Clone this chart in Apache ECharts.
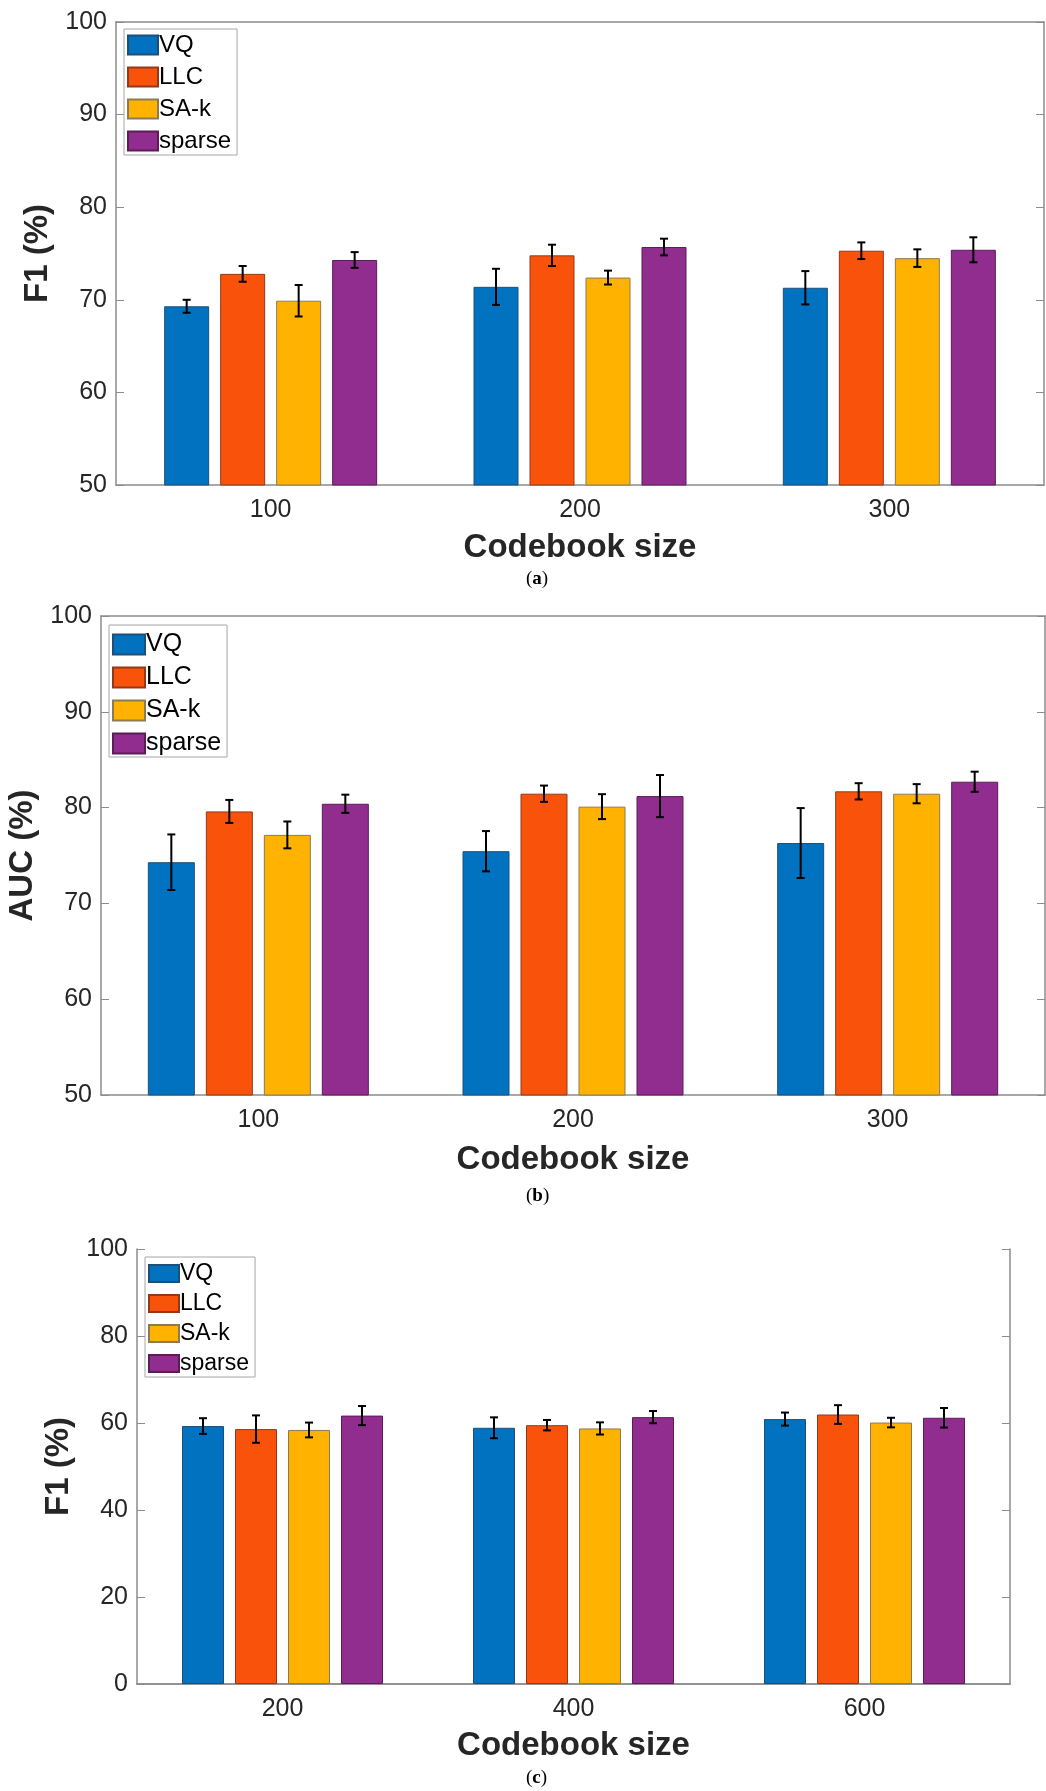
<!DOCTYPE html>
<html>
<head>
<meta charset="utf-8">
<script src="https://cdn.jsdelivr.net/npm/echarts@6/dist/echarts.min.js"></script>
<style>
  html, body { margin: 0; padding: 0; background: #fff; }
  #chart { width: 1046px; height: 1791px; }
</style>
</head>
<body>
<div id="chart"></div>
<script>
// data
var methods = ['VQ', 'LLC', 'SA-k', 'sparse'];
var sizesAB = ['100', '200', '300'];
var sizesC = ['200', '400', '600'];

// (a) F1, rows = methods, cols = codebook size
var f1aMean = [
    [69.3, 71.4, 71.3],
    [72.8, 74.8, 75.3],
    [69.9, 72.4, 74.5],
    [74.3, 75.7, 75.4]
];
var f1aErr = [
    [0.7, 1.95, 1.8],
    [0.85, 1.15, 0.9],
    [1.7, 0.75, 0.95],
    [0.85, 0.9, 1.35]
];
// (b) AUC
var aucMean = [
    [74.3, 75.45, 76.3],
    [79.6, 81.45, 81.7],
    [77.15, 80.1, 81.45],
    [80.4, 81.2, 82.7]
];
var aucErr = [
    [2.9, 2.1, 3.65],
    [1.2, 0.85, 0.85],
    [1.4, 1.3, 1.0],
    [0.95, 2.2, 1.05]
];
// (c) F1
var f1cMean = [
    [59.3, 58.9, 60.9],
    [58.6, 59.5, 61.95],
    [58.4, 58.75, 60.1],
    [61.7, 61.35, 61.2]
];
var f1cErr = [
    [1.8, 2.4, 1.5],
    [3.15, 1.2, 2.15],
    [1.7, 1.4, 1.1],
    [2.2, 1.4, 2.25]
];

var colors = ['#0072BF', '#F9530B', '#FFB200', '#912D8E'];
var edges = ['#1f4f78', '#8f3a18', '#8c7a55', '#5a1d58'];
var axisGray = '#8c8c8c';
var txt = '#262626';
var sans = 'Liberation Sans, Arial, sans-serif';

// panel layouts (px)
var panels = [
    { grid: { left: 116, right: 2, top: 22, height: 463 }, cats: sizesAB, mean: f1aMean, err: f1aErr,
      min: 50, max: 100, interval: 10, yName: 'F1 (%)', yGap: 56, xGap: 46, barW: 45, gap: 11,
      legend: { left: 124, top: 29, itemWidth: 30, itemHeight: 19, itemGap: 8, fontSize: 24, padding: [4, 6, 2, 3] } },
    { grid: { left: 101, right: 1, top: 616, height: 479 }, cats: sizesAB, mean: aucMean, err: aucErr,
      min: 50, max: 100, interval: 10, yName: 'AUC (%)', yGap: 52, xGap: 48, barW: 47, gap: 11,
      legend: { left: 109, top: 625, itemWidth: 32, itemHeight: 20, itemGap: 8, fontSize: 25, padding: [7, 6, 1, 3] } },
    { grid: { left: 137, right: 36, top: 1249, height: 435 }, cats: sizesC, mean: f1cMean, err: f1cErr,
      min: 0, max: 100, interval: 20, yName: 'F1 (%)', yGap: 38, xGap: 45, barW: 42, gap: 11,
      legend: { left: 145, top: 1257, itemWidth: 30, itemHeight: 17, itemGap: 7, fontSize: 23, padding: [5, 6, 2, 3] } }
];

function errRender(offset) {
    return function (params, api) {
        var hi = api.coord([api.value(0), api.value(2)]);
        var lo = api.coord([api.value(0), api.value(1)]);
        var x = hi[0] + offset;
        var st = { stroke: '#000', lineWidth: 2 };
        return {
            type: 'group',
            children: [
                { type: 'line', shape: { x1: x, y1: hi[1], x2: x, y2: lo[1] }, style: st },
                { type: 'line', shape: { x1: x - 4, y1: hi[1], x2: x + 4, y2: hi[1] }, style: st },
                { type: 'line', shape: { x1: x - 4, y1: lo[1], x2: x + 4, y2: lo[1] }, style: st }
            ]
        };
    };
}

var option = {
    animation: false,
    backgroundColor: '#fff',
    grid: [], xAxis: [], yAxis: [], legend: [], series: [],
    graphic: []
};

panels.forEach(function (p, k) {
    option.grid.push(Object.assign({ outerBoundsMode: 'none', containLabel: false }, p.grid));

    // bottom axis with labels + top axis for the box
    option.xAxis.push({
        type: 'category', gridIndex: k, data: p.cats, position: 'bottom',
        name: 'Codebook size', nameLocation: 'middle', nameGap: p.xGap,
        nameTextStyle: { fontFamily: sans, fontWeight: 'bold', fontSize: 33, color: txt },
        axisLine: { lineStyle: { color: axisGray, width: 1.5 } },
        axisTick: { inside: true, alignWithLabel: true, length: 9, lineStyle: { color: axisGray } },
        axisLabel: { fontFamily: sans, fontSize: 25, color: txt, margin: 13 },
        splitLine: { show: false }
    });
    option.xAxis.push({
        type: 'category', gridIndex: k, data: p.cats, position: 'top',
        axisLine: { lineStyle: { color: axisGray, width: 1.5 } },
        axisTick: { inside: true, alignWithLabel: true, length: 9, lineStyle: { color: axisGray } },
        axisLabel: { show: false }, splitLine: { show: false }
    });
    option.yAxis.push({
        type: 'value', gridIndex: k, min: p.min, max: p.max, interval: p.interval, position: 'left',
        name: p.yName, nameLocation: 'middle', nameGap: p.yGap, nameRotate: 90,
        nameTextStyle: { fontFamily: sans, fontWeight: 'bold', fontSize: 33, color: txt },
        axisLine: { show: true, lineStyle: { color: axisGray, width: 1.5 } },
        axisTick: { show: true, inside: true, length: 8, lineStyle: { color: axisGray } },
        axisLabel: { fontFamily: sans, fontSize: 25, color: txt, margin: 9 },
        splitLine: { show: false }
    });
    option.yAxis.push({
        type: 'value', gridIndex: k, min: p.min, max: p.max, interval: p.interval, position: 'right',
        axisLine: { show: true, lineStyle: { color: axisGray, width: 1.5 } },
        axisTick: { show: true, inside: true, length: 8, lineStyle: { color: axisGray } },
        axisLabel: { show: false }, splitLine: { show: false }
    });

    methods.forEach(function (m, i) {
        option.series.push({
            name: m, type: 'bar', xAxisIndex: 2 * k, yAxisIndex: 2 * k,
            data: p.mean[i], barWidth: p.barW, barGap: (p.gap / p.barW * 100) + '%',
            itemStyle: { color: colors[i], borderColor: edges[i], borderWidth: 1 },
            emphasis: { disabled: true }
        });
    });
    // error bars, shifted to sit on their bar inside the group
    methods.forEach(function (m, i) {
        var off = (i - 1.5) * (p.barW + p.gap);
        option.series.push({
            type: 'custom', xAxisIndex: 2 * k, yAxisIndex: 2 * k, z: 5,
            renderItem: errRender(off),
            data: p.mean[i].map(function (v, j) { return [j, v - p.err[i][j], v + p.err[i][j]]; }),
            encode: { x: 0, y: [1, 2] },
            silent: true
        });
    });

    option.legend.push({
        data: methods, orient: 'vertical', left: p.legend.left, top: p.legend.top,
        itemWidth: p.legend.itemWidth, itemHeight: p.legend.itemHeight, itemGap: p.legend.itemGap,
        padding: p.legend.padding, borderColor: '#a6a6a6', borderWidth: 1, backgroundColor: '#fff',
        icon: 'rect', selectedMode: false,
        textStyle: { fontFamily: sans, fontSize: p.legend.fontSize, color: '#000', padding: [0, 0, 0, -4] }
    });
});

// panel captions
[['a', 581], ['b', 1198], ['c', 1780]].forEach(function (c) {
    option.graphic.push({
        type: 'text', left: 526, top: c[1] - 11,
        style: {
            text: '{p|(}{b|' + c[0] + '}{p|)}',
            rich: {
                p: { fontFamily: 'Liberation Serif, serif', fontSize: 19, fill: '#000' },
                b: { fontFamily: 'Liberation Serif, serif', fontSize: 19, fontWeight: 'bold', fill: '#000' }
            }
        }
    });
});

var myChart = echarts.init(document.getElementById('chart'), null, { renderer: 'canvas' });
myChart.setOption(option);
</script>
</body>
</html>
